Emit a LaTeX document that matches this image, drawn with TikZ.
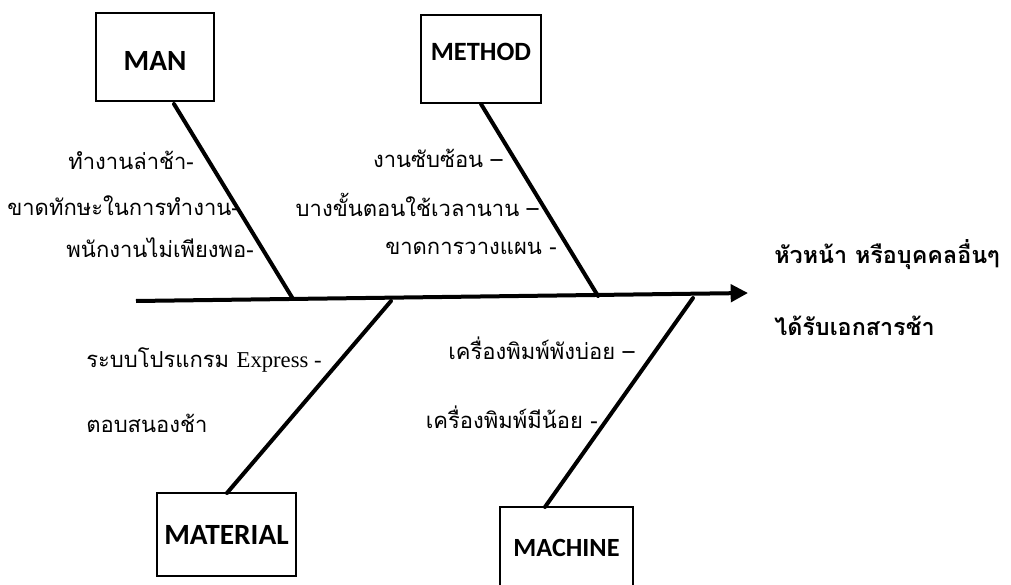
\documentclass[tikz,border=0pt]{standalone}
\usepackage{fontspec}
\setmainfont{Liberation Serif}
\newfontfamily\thaifont[Script=Thai]{Loma}
\newfontfamily\boxfont{Carlito}
\usetikzlibrary{arrows.meta}
\tikzset{
  catbox/.style={draw=black, line width=1.5pt, minimum width=#1, minimum height=66pt, inner sep=0pt,
                 font=\boxfont\bfseries\fontsize{19}{21}\selectfont},
  catbox/.default=88pt,
  bone/.style={line width=3pt, line cap=round},
  spine/.style={line width=3pt, -{Triangle[length=13pt,width=13pt]}},
  cause/.style={font=\thaifont\fontsize{16.5}{18}\selectfont, inner sep=0pt},
  effect/.style={font=\thaifont\bfseries\fontsize{17.5}{19}\selectfont, inner sep=0pt, anchor=west}
}
\begin{document}
\begin{tikzpicture}[x=0.75pt,y=-0.75pt]
\useasboundingbox (0,0) rectangle (1011,585);
% boxes
\node[catbox=88pt, text height=21pt, text depth=0pt, font=\boxfont\bfseries\fontsize{22}{24}\selectfont] (man) at (155,57) {MAN};
\node[catbox=90pt, text height=13pt, text depth=10pt, font=\boxfont\bfseries\fontsize{19.8}{22}\selectfont] (method) at (481,59) {METHOD};
\node[catbox=104pt, minimum height=62pt, font=\boxfont\bfseries\fontsize{22}{24}\selectfont] (material) at (226.5,534.5) {MATERIAL};
\node[catbox=100pt, minimum height=62pt, font=\boxfont\bfseries\fontsize{19.7}{22}\selectfont] (machine) at (566.5,548) {MACHINE};
% spine
\coordinate (s0) at (136,301);
\coordinate (s1) at (748,293);
\draw[spine] (s0) -- (s1);
% bone ends on spine
\coordinate (bman) at (293,299);
\coordinate (bmethod) at (598,296);
\coordinate (bmaterial) at (391,301);
\coordinate (bmachine) at (693,298);
\coordinate (tman) at (174,104);
\coordinate (tmethod) at (481,104);
\coordinate (tmaterial) at (227,493);
\coordinate (tmachine) at (545,507);
\draw[bone] (tman) -- (bman);
\draw[bone] (tmethod) -- (bmethod);
\draw[bone] (tmaterial) -- (bmaterial);
\draw[bone] (tmachine) -- (bmachine);
% causes: MAN
\node[cause, anchor=east] (c1) at (194,160) {ทำงานล่าช้า-};
\node[cause, anchor=east] (c2) at (239,206) {ขาดทักษะในการทำงาน-};
\node[cause, anchor=east] (c3) at (254,248) {พนักงานไม่เพียงพอ-};
% causes: METHOD
\node[cause, anchor=east] (c4) at (503,158) {งานซับซ้อน –};
\node[cause, anchor=east] (c5) at (539,205) {บางขั้นตอนใช้เวลานาน –};
\node[cause, anchor=east] (c6) at (557,248) {ขาดการวางแผน -};
% causes: MATERIAL
\node[cause, anchor=west] (c7) at (86,360) {ระบบโปรแกรม {\rmfamily\fontsize{17}{19}\selectfont Express -}};
\node[cause, anchor=west] (c8) at (86,423) {ตอบสนองช้า};
% causes: MACHINE
\node[cause, anchor=east] (c9) at (635,348) {เครื่องพิมพ์พังบ่อย –};
\node[cause, anchor=east] (c10) at (598,417) {เครื่องพิมพ์มีน้อย -};
% effect
\node[effect] (e1) at (774,255) {หัวหน้า หรือบุคคลอื่นๆ};
\node[effect] (e2) at (774,326) {ได้รับเอกสารช้า};
\end{tikzpicture}
\end{document}
